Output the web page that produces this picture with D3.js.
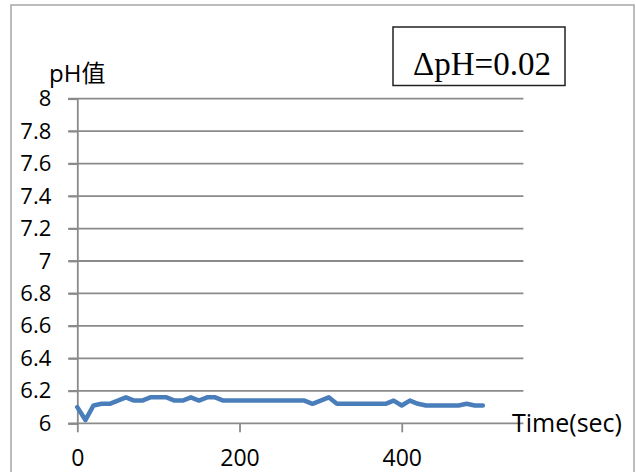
<!DOCTYPE html>
<html>
<head>
<meta charset="utf-8">
<script src="https://cdn.jsdelivr.net/npm/d3@7"></script>
<style>
  html, body { margin: 0; padding: 0; background: #fff; }
  svg { display: block; }
</style>
</head>
<body>
<svg id="chart" width="636" height="472"></svg>
<script>
// ---- data ----
const timeSec = [0,10,20,30,40,50,60,70,80,90,100,110,120,130,140,150,160,170,180,190,
  200,210,220,230,240,250,260,270,280,290,300,310,320,330,340,350,360,370,380,390,
  400,410,420,430,440,450,460,470,480,490,500];
const phValues = [6.10,6.02,6.11,6.12,6.12,6.14,6.16,6.14,6.14,6.16,6.16,6.16,6.14,6.14,6.16,6.14,6.16,6.16,6.14,6.14,
  6.14,6.14,6.14,6.14,6.14,6.14,6.14,6.14,6.14,6.12,6.14,6.16,6.12,6.12,6.12,6.12,6.12,6.12,6.12,6.14,
  6.11,6.14,6.12,6.11,6.11,6.11,6.11,6.11,6.12,6.11,6.11];
const yTicks = [6, 6.2, 6.4, 6.6, 6.8, 7, 7.2, 7.4, 7.6, 7.8, 8];
const yTickLabels = ["6","6.2","6.4","6.6","6.8","7","7.2","7.4","7.6","7.8","8"];
const xTicks = [0, 200, 400];
const xTickLabels = ["0","200","400"];
const yAxisTitle = "pH值";
const xAxisTitle = "Time(sec)";
const annotation = "ΔpH=0.02";

// ---- layout ----
const svg = d3.select("#chart");
const plotLeft = 77.3, plotRight = 523.4, plotTop = 98.7, plotBottom = 423.3;
const x = d3.scaleLinear().domain([0, 550]).range([plotLeft, plotRight]);
const y = d3.scaleLinear().domain([6, 8]).range([plotBottom, plotTop]);

const grey = "#8a8a8a";
const sans = "'Open Sans', 'Noto Sans CJK TC', sans-serif";

// outer chart border
svg.append("rect").attr("x", 11).attr("y", 5).attr("width", 623).attr("height", 480)
  .attr("fill", "#fff").attr("stroke", "#a6a6a6").attr("stroke-width", 1.5);

// horizontal gridlines (extend left as tick marks)
svg.append("g").selectAll("line").data(yTicks.slice(1)).join("line")
  .attr("x1", plotLeft - 9).attr("x2", plotRight)
  .attr("y1", d => y(d)).attr("y2", d => y(d))
  .attr("stroke", grey).attr("stroke-width", 1.8);

// y axis via d3.axisLeft
const yAxis = svg.append("g").attr("transform", `translate(${plotLeft},0)`)
  .call(d3.axisLeft(y).tickValues(yTicks).tickFormat((d,i) => yTickLabels[i]).tickSize(9).tickPadding(17));
yAxis.select(".domain").attr("stroke", grey).attr("stroke-width", 1.8);
yAxis.selectAll(".tick line").attr("stroke", grey).attr("stroke-width", 1.8);
yAxis.selectAll(".tick text").attr("font-family", sans).attr("font-size", 22).attr("fill", "#000");

// x axis via d3.axisBottom
const xAxis = svg.append("g").attr("transform", `translate(0,${plotBottom})`)
  .call(d3.axisBottom(x).tickValues(xTicks).tickFormat((d,i) => xTickLabels[i]).tickSize(9).tickPadding(17).tickSizeOuter(0));
xAxis.select(".domain").attr("stroke", grey).attr("stroke-width", 1.8)
  .attr("d", `M${plotLeft - 9},0H${plotRight}`);
xAxis.selectAll(".tick line").attr("stroke", grey).attr("stroke-width", 1.8);
xAxis.selectAll(".tick text").attr("font-family", sans).attr("font-size", 23).attr("fill", "#000");

// data line
const line = d3.line().x((d, i) => x(timeSec[i])).y(d => y(d));
svg.append("path").datum(phValues)
  .attr("d", line)
  .attr("fill", "none").attr("stroke", "#4a7ebb").attr("stroke-width", 4.5)
  .attr("stroke-linejoin", "round").attr("stroke-linecap", "round");

// axis titles
svg.append("text").attr("x", 49).attr("y", 82).text(yAxisTitle)
  .attr("font-family", sans).attr("font-size", 24).attr("fill", "#000");
svg.append("text").attr("x", 512).attr("y", 432).text(xAxisTitle)
  .attr("font-family", sans).attr("font-size", 25).attr("fill", "#000");

// annotation box
svg.append("rect").attr("x", 393).attr("y", 27).attr("width", 172).attr("height", 58.5)
  .attr("fill", "#fff").attr("stroke", "#222").attr("stroke-width", 1.5);
svg.append("text").attr("x", 413).attr("y", 75).text(annotation)
  .attr("font-family", "'Liberation Serif', 'Times New Roman', serif").attr("font-size", 33).attr("fill", "#000");
</script>
</body>
</html>
